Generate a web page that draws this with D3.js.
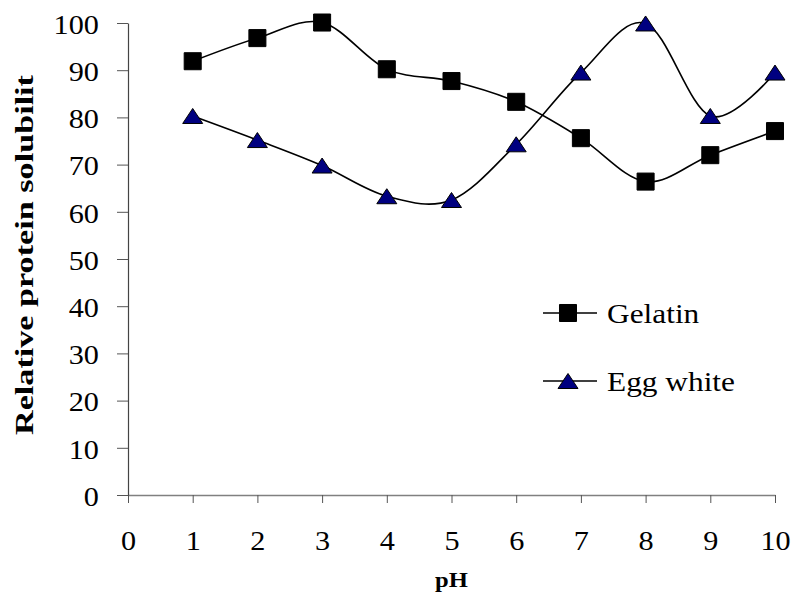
<!DOCTYPE html>
<html>
<head>
<meta charset="utf-8">
<script src="https://cdn.jsdelivr.net/npm/d3@7"></script>
<style>
  body { margin: 0; background: #fff; }
  text { font-family: "Liberation Serif", "Times New Roman", serif; fill: #000; }
</style>
</head>
<body>
<div id="chart"></div>
<script>
const phValues = [1, 2, 3, 4, 5, 6, 7, 8, 9, 10];
const gelatin = [91.9, 96.8, 100.1, 90.2, 87.7, 83.3, 75.6, 66.4, 72, 77.1];
const eggWhite = [80.3, 75.2, 69.8, 63.3, 62.5, 74.3, 89.5, 99.9, 80.3, 89.5];
const xTicks = [0, 1, 2, 3, 4, 5, 6, 7, 8, 9, 10];
const yTicks = [0, 10, 20, 30, 40, 50, 60, 70, 80, 90, 100];

const width = 794, height = 593;
const margin = { left: 128, right: 19, top: 23, bottom: 98 };
const stretch = 1.12; // the reference text is a bit wide

const svg = d3.select("#chart").append("svg")
  .attr("width", width)
  .attr("height", height);

const x = d3.scaleLinear().domain([0, 10]).range([margin.left, width - margin.right]);
const y = d3.scaleLinear().domain([0, 100]).range([height - margin.bottom, margin.top]);

// axes
const xAxis = svg.append("g")
  .attr("transform", `translate(0,${y(0)})`)
  .call(d3.axisBottom(x).tickValues(xTicks).tickSize(8).tickSizeOuter(0));
xAxis.select(".domain").attr("stroke", "#808080").attr("stroke-width", 1.5);
xAxis.selectAll(".tick line").attr("stroke", "#555");
xAxis.selectAll(".tick text")
  .attr("y", 55)
  .attr("dy", null)
  .attr("transform", `scale(${stretch},1)`)
  .style("font-size", "27px");

const yAxis = svg.append("g")
  .attr("transform", `translate(${x(0)},0)`)
  .call(d3.axisLeft(y).tickValues(yTicks).tickSize(11).tickSizeOuter(0));
yAxis.select(".domain").attr("stroke", "#444").attr("stroke-width", 1.2);
yAxis.selectAll(".tick line").attr("stroke", "#555");
yAxis.selectAll(".tick text")
  .attr("x", -26)
  .attr("dy", "0.38em")
  .attr("transform", `scale(${stretch},1)`)
  .style("font-size", "27px");

// titles
svg.append("text")
  .attr("transform", `translate(${(x(0) + x(10)) / 2},587) scale(${stretch},1)`)
  .attr("text-anchor", "middle")
  .style("font-size", "22px")
  .style("font-weight", "bold")
  .text("pH");

svg.append("text")
  .attr("transform", `translate(33,255) rotate(-90)`)
  .attr("x", -180)
  .attr("textLength", 360)
  .attr("lengthAdjust", "spacingAndGlyphs")
  .style("font-size", "25px")
  .style("font-weight", "bold")
  .text("Relative protein solubilit");

// lines
const line = d3.line()
  .x(d => x(d[0]))
  .y(d => y(d[1]))
  .curve(d3.curveCardinal.tension(0));

const series = [
  { name: "Gelatin", values: gelatin, shape: "square" },
  { name: "Egg white", values: eggWhite, shape: "triangle" }
];

const squareSym = d3.symbol().type(d3.symbolSquare).size(290)();
const triSym = "M0,-7.5L10,7.5L-10,7.5Z";

series.forEach(s => {
  const pts = phValues.map((p, i) => [p, s.values[i]]);
  svg.append("path")
    .attr("d", line(pts))
    .attr("fill", "none")
    .attr("stroke", "#000")
    .attr("stroke-width", 1.6);

  svg.selectAll(null)
    .data(pts)
    .enter()
    .append("path")
    .attr("transform", d => `translate(${x(d[0])},${y(d[1])})`)
    .attr("d", s.shape === "square" ? squareSym : triSym)
    .attr("fill", s.shape === "square" ? "#000" : "#000080")
    .attr("stroke", "#000")
    .attr("stroke-width", 1);
});

// legend
const legend = svg.append("g");
const legendRows = [
  { name: "Gelatin", shape: "square", y: 313 },
  { name: "Egg white", shape: "triangle", y: 381 }
];
legendRows.forEach(r => {
  legend.append("line")
    .attr("x1", 543).attr("x2", 597)
    .attr("y1", r.y).attr("y2", r.y)
    .attr("stroke", "#000").attr("stroke-width", 1.6);
  legend.append("path")
    .attr("transform", `translate(568,${r.y})`)
    .attr("d", r.shape === "square" ? squareSym : triSym)
    .attr("fill", r.shape === "square" ? "#000" : "#000080")
    .attr("stroke", "#000");
  legend.append("text")
    .attr("transform", `translate(607,${r.y + 10}) scale(${stretch},1)`)
    .style("font-size", "28px")
    .text(r.name);
});
</script>
</body>
</html>
